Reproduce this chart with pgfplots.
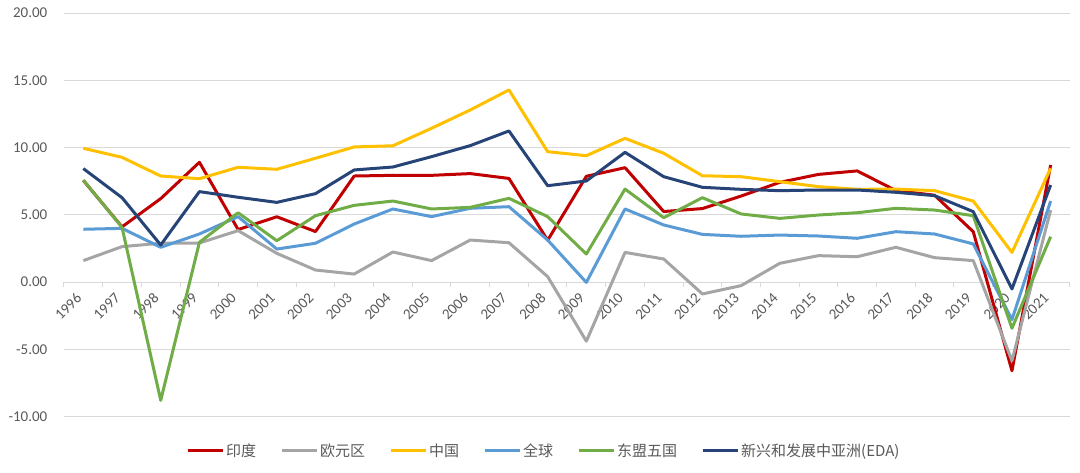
\documentclass[border=0pt]{standalone}
\usepackage{fontspec}
\setmainfont{Carlito}
\newfontfamily\cjk{Noto Sans CJK SC}
\usepackage{pgfplots}
\usepackage{pgfplotstable}
\pgfplotsset{compat=1.18}
\definecolor{cIndia}{HTML}{C00000}
\definecolor{cEuro}{HTML}{A5A5A5}
\definecolor{cChina}{HTML}{FFC000}
\definecolor{cWorld}{HTML}{5B9BD5}
\definecolor{cAsean}{HTML}{70AD47}
\definecolor{cEDA}{HTML}{264478}
\definecolor{gridc}{HTML}{D9D9D9}
\definecolor{txt}{HTML}{595959}
\pgfplotstableread{
x India Euro China World Asean EDA
0 7.55 1.59 9.94 3.92 7.58 8.43
1 4.10 2.63 9.27 3.99 4.06 6.27
2 6.20 2.88 7.88 2.58 -8.80 2.75
3 8.90 2.90 7.68 3.57 2.95 6.72
4 3.90 3.82 8.53 4.86 5.15 6.30
5 4.85 2.13 8.38 2.45 3.07 5.92
6 3.75 0.89 9.20 2.88 4.93 6.57
7 7.88 0.59 10.04 4.31 5.70 8.33
8 7.93 2.23 10.13 5.43 6.02 8.55
9 7.93 1.59 11.43 4.86 5.43 9.32
10 8.06 3.12 12.79 5.48 5.55 10.14
11 7.70 2.92 14.28 5.60 6.22 11.23
12 3.10 0.40 9.69 3.12 4.86 7.16
13 7.86 -4.40 9.39 -0.03 2.08 7.51
14 8.50 2.20 10.68 5.43 6.91 9.64
15 5.24 1.71 9.57 4.24 4.78 7.83
16 5.46 -0.89 7.90 3.54 6.27 7.04
17 6.39 -0.27 7.83 3.40 5.06 6.89
18 7.41 1.39 7.46 3.49 4.73 6.79
19 8.00 1.96 7.09 3.42 4.98 6.84
20 8.26 1.88 6.89 3.25 5.15 6.84
21 6.80 2.58 6.91 3.74 5.48 6.67
22 6.45 1.81 6.79 3.57 5.35 6.42
23 3.74 1.59 6.02 2.83 4.93 5.23
24 -6.60 -5.85 2.20 -2.80 -3.44 -0.52
25 8.70 5.35 8.45 6.02 3.37 7.21
}\gdp
\begin{document}
\begin{tikzpicture}[x=1pt,y=1pt]
\useasboundingbox (0,0) rectangle (1080,472);
\begin{axis}[
  at={(64pt,55.5pt)}, anchor=south west,
  width=1006pt, height=403.5pt, scale only axis,
  xmin=-0.5, xmax=25.5, ymin=-10, ymax=20,
  axis x line=middle, axis y line=left,
  x axis line style={draw=gridc, line width=1pt, -},
  y axis line style={draw=none},
  xtick={0,...,25},
  xticklabels={1996,1997,1998,1999,2000,2001,2002,2003,2004,2005,2006,2007,2008,2009,2010,2011,2012,2013,2014,2015,2016,2017,2018,2019,2020,2021},
  major x tick style={draw=none},
  minor xtick={-0.5,0.5,...,25.5},
  minor tick length=5pt,
  xtick align=outside,
  minor x tick style={draw=gridc, line width=1pt},
  xticklabel style={font=\fontsize{15}{17}\selectfont, text=txt, xshift=-2pt, yshift=-7pt, rotate=45, anchor=east},
  ytick={-10,-5,...,20},
  major y tick style={draw=none},
  ymajorgrids, grid style={draw=gridc, line width=1pt},
  yticklabel style={font=\fontsize{15}{17}\selectfont, text=txt, xshift=-11pt},
  yticklabel={\pgfmathprintnumber[fixed,fixed zerofill,precision=2,assume math mode=true]{\tick}},
  legend columns=6,
  legend style={draw=none, fill=none, at={(0.477,-0.0855)}, anchor=center,
    font=\cjk\fontsize{15}{17}\selectfont, text=txt,
    /tikz/every even column/.append style={column sep=22pt},
    inner sep=0pt},
  legend image code/.code={\draw[#1, line width=3pt] (0pt,0pt) -- (35pt,0pt);},
  every axis plot/.append style={line width=3pt, line join=round, no marks},
  clip=false,
]
\addplot[cIndia] table[x=x,y=India]{\gdp};
\addplot[cEuro] table[x=x,y=Euro]{\gdp};
\addplot[cChina] table[x=x,y=China]{\gdp};
\addplot[cWorld] table[x=x,y=World]{\gdp};
\addplot[cAsean] table[x=x,y=Asean]{\gdp};
\addplot[cEDA] table[x=x,y=EDA]{\gdp};
\legend{印度,欧元区,中国,全球,东盟五国,新兴和发展中亚洲(EDA)}
\end{axis}
\end{tikzpicture}
\end{document}
